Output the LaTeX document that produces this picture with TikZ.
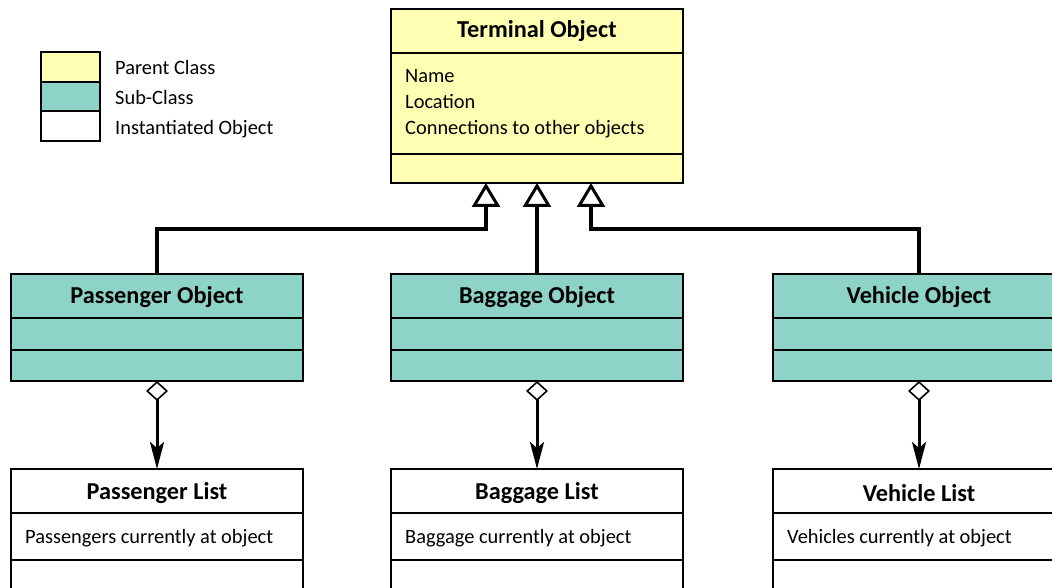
\documentclass[tikz,border=0pt]{standalone}
\usepackage{fontspec}
\setmainfont{Carlito}
\usetikzlibrary{arrows.meta,calc}
\definecolor{parentfill}{HTML}{FFFFB3}
\definecolor{subfill}{HTML}{8DD3C7}
\begin{document}
\begin{tikzpicture}[x=1pt,y=-1pt,
  classbox/.style={draw=black,line width=2.2pt,inner sep=0pt,outer sep=0pt,
    minimum width=292pt},
  parentbox/.style={classbox,fill=parentfill,minimum height=174pt},
  subbox/.style={classbox,fill=subfill,minimum height=107pt},
  listbox/.style={classbox,fill=white,minimum height=140pt},
  divider/.style={line width=2.6pt},
  title/.style={font=\bfseries\fontsize{24.3pt}{28pt}\selectfont,anchor=base,inner sep=0pt},
  body/.style={font=\fontsize{20.4pt}{24pt}\selectfont,anchor=base west,inner sep=0pt},
  legendbox/.style={draw=black,line width=2.2pt,minimum width=59pt,minimum height=29.5pt,
    inner sep=0pt,outer sep=0pt},
  gen/.style={line width=3.4pt,-{Triangle[open,fill=white,length=24pt,width=28pt,line width=3pt]}},
  agg/.style={line width=3pt,
    {Diamond[open,fill=white,length=20pt,width=22pt,line width=1.6pt]}-{Stealth[length=27pt,width=14pt,inset=6pt]}},
]
\useasboundingbox (0,0) rectangle (1052,588);
\clip (0,0) rectangle (1052,588);

% legend
\node[legendbox,fill=parentfill] (lp) at (70.5,67) {};
\node[legendbox,fill=subfill] (ls) at (70.5,96.5) {};
\node[legendbox,fill=white] (li) at (70.5,126) {};
\node[body] (lpt) at (115,74.5) {Parent Class};
\node[body] (lst) at (115,104.5) {Sub-Class};
\node[body] (lit) at (115,134.5) {Instantiated Object};

% parent class
\node[parentbox] (term) at (537,96) {};
\draw[divider] ($(term.north west)+(0,44)$) -- ($(term.north east)+(0,44)$);
\draw[divider] ($(term.north west)+(0,145)$) -- ($(term.north east)+(0,145)$);
\node[title] (termT) at ($(term.north)+(0,28.5)$) {Terminal Object};
\node[body] (termA) at ($(term.north west)+(14,73.5)$) {Name};
\node[body] (termB) at ($(term.north west)+(14,99.5)$) {Location};
\node[body] (termC) at ($(term.north west)+(14,125.5)$) {Connections to other objects};

% sub-classes
\foreach \nm/\cx/\txt in {pass/157/Passenger Object, bag/537/Baggage Object, veh/919/Vehicle Object}{
  \node[subbox] (\nm) at (\cx,327.5) {};
  \draw[divider] ($(\nm.north west)+(0,44)$) -- ($(\nm.north east)+(0,44)$);
  \draw[divider] ($(\nm.north west)+(0,76)$) -- ($(\nm.north east)+(0,76)$);
  \node[title] (\nm T) at ($(\nm.north)+(0,29)$) {\txt};
}

% instantiated objects
\foreach \nm/\cx/\dy/\txt/\info in {
    plist/157/30/Passenger List/Passengers currently at object,
    blist/537/30/Baggage List/Baggage currently at object,
    vlist/919/32/Vehicle List/Vehicles currently at object}{
  \node[listbox] (\nm) at (\cx,539) {};
  \draw[divider] ($(\nm.north west)+(0,44)$) -- ($(\nm.north east)+(0,44)$);
  \draw[divider] ($(\nm.north west)+(0,91)$) -- ($(\nm.north east)+(0,91)$);
  \node[title] (\nm T) at ($(\nm.north)+(0,\dy)$) {\txt};
  \node[body] (\nm A) at ($(\nm.north west)+(14,74)$) {\info};
}

% generalisation connectors
\coordinate (busL) at (486,229);
\coordinate (busR) at (591,229);
\draw[gen] (pass.north) |- (busL) -- ([xshift=-51pt]term.south);
\draw[gen] (bag.north) -- (term.south);
\draw[gen] (veh.north) |- (busR) -- ([xshift=54pt]term.south);

% aggregation connectors
\draw[agg] (pass.south) -- (plist.north);
\draw[agg] (bag.south) -- (blist.north);
\draw[agg] (veh.south) -- (vlist.north);
\end{tikzpicture}
\end{document}
